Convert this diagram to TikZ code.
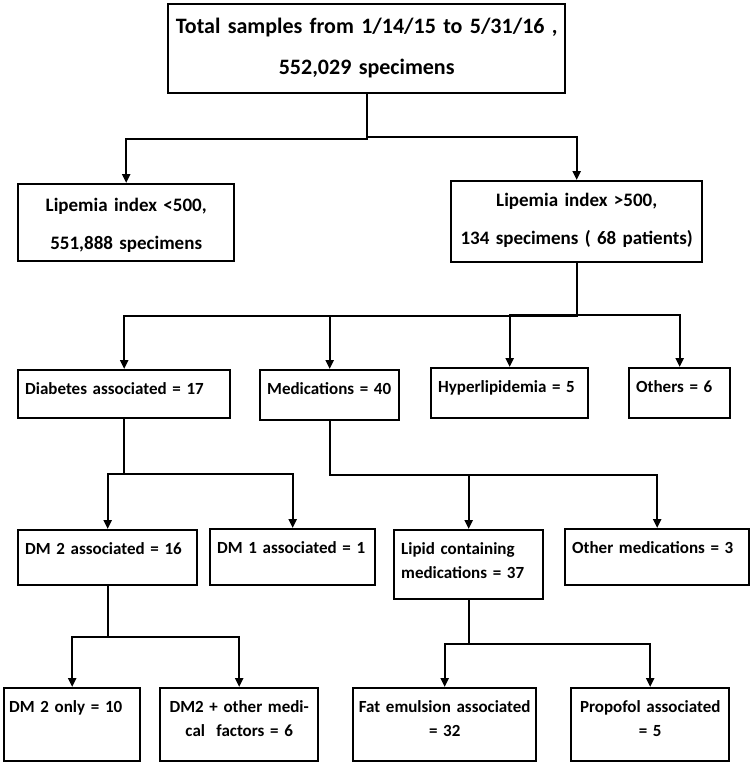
\documentclass[tikz,border=0pt]{standalone}
\usepackage{fontspec}
\setmainfont{Carlito}
\usetikzlibrary{arrows.meta, calc}
\tikzset{
  box/.style={
    rectangle, draw=black, line width=2.4pt,
    anchor=north west, inner xsep=7pt, inner ysep=0pt,
    text height=24pt, font=\bfseries\fontsize{17}{24}\selectfont
  },
  leftbox/.style={box, align=left},
  midbox/.style={box, align=center, inner xsep=0pt},
  arrow/.style={-{Triangle[length=9pt,width=8pt]}, line width=2.2pt, draw=black},
}
\begin{document}
\begin{tikzpicture}[x=1pt, y=-1pt]
  \useasboundingbox (0,0) rectangle (750,763);

  \node[midbox, font=\bfseries\fontsize{22}{41}\selectfont, text width=397pt,
        text height=29.5pt, text depth=59.5pt] (total) at (167,3)
        {Total samples from 1/14/15 to 5/31/16 ,\\552,029 specimens};

  \node[midbox, font=\bfseries\fontsize{19}{38}\selectfont, text width=216pt,
        text height=27.5pt, text depth=49.5pt] (low) at (17,183)
        {Lipemia index <500,\\551,888 specimens};
  \node[midbox, font=\bfseries\fontsize{19}{38}\selectfont, text width=251pt,
        text height=25.5pt, text depth=55.5pt] (high) at (450,180)
        {Lipemia index >500,\\134 specimens ( 68 patients)};

  \node[leftbox, text width=198pt, text depth=24pt] (diab) at (17,369) {Diabetes associated = 17};
  \node[leftbox, text width=125pt, text depth=26pt] (meds) at (259,369) {Medications = 40};
  \node[leftbox, text width=143pt, text depth=26pt] (hyper) at (430,367) {Hyperlipidemia = 5};
  \node[leftbox, text width=87pt, text depth=26pt] (others) at (628,367) {Others = 6};

  \node[leftbox, text width=165pt, text depth=31pt] (dmtwo) at (17,529) {DM 2 associated = 16};
  \node[leftbox, text width=151pt, text depth=32pt] (dmone) at (209,528) {DM 1 associated = 1};
  \node[leftbox, text width=135pt, text depth=45pt] (lipid) at (393,529) {Lipid containing\\medications = 37};
  \node[leftbox, text width=170pt, text depth=32pt] (othmeds) at (564,528) {Other medications = 3};

  \node[leftbox, inner xsep=5pt, text width=126pt, text depth=49pt] (dmonly) at (3,687) {DM 2 only = 10};
  \node[midbox, text width=158pt, text depth=49pt] (dmplus) at (159,687) {DM2 + other medi-\\cal\ \ factors = 6};
  \node[midbox, text width=183pt, text depth=49pt] (fat) at (352,687) {Fat emulsion associated\\= 32};
  \node[midbox, text width=158pt, text depth=49pt] (propofol) at (570,687) {Propofol associated\\= 5};

  % elbow connectors, split halfway between parent and child
  \draw[arrow] (total.south) |- ($(total.south)!.5!(low.north)$) -| (low.north);
  \draw[arrow] (total.south) |- ($(total.south)!.5!(high.north)$) -| (high.north);

  \draw[arrow] (high.south) |- ($(high.south)!.5!(diab.north)$) -| (diab.north);
  \draw[arrow] (high.south) |- ($(high.south)!.5!(meds.north)$) -| (meds.north);
  \draw[arrow] (high.south) |- ($(high.south)!.5!(hyper.north)$) -| (hyper.north);
  \draw[arrow] (high.south) |- ($(high.south)!.5!(others.north)$) -| (others.north);

  \draw[arrow] (diab.south) |- ($(diab.south)!.5!(dmtwo.north)$) -| (dmtwo.north);
  \draw[arrow] (diab.south) |- ($(diab.south)!.5!(dmone.north)$) -| (dmone.north);
  \draw[arrow] (meds.south) |- ($(meds.south)!.5!(lipid.north)$) -| (lipid.north);
  \draw[arrow] (meds.south) |- ($(meds.south)!.5!(othmeds.north)$) -| (othmeds.north);

  \draw[arrow] (dmtwo.south) |- ($(dmtwo.south)!.5!(dmonly.north)$) -| (dmonly.north);
  \draw[arrow] (dmtwo.south) |- ($(dmtwo.south)!.5!(dmplus.north)$) -| (dmplus.north);
  \draw[arrow] (lipid.south) |- ($(lipid.south)!.5!(fat.north)$) -| (fat.north);
  \draw[arrow] (lipid.south) |- ($(lipid.south)!.5!(propofol.north)$) -| (propofol.north);
\end{tikzpicture}
\end{document}
